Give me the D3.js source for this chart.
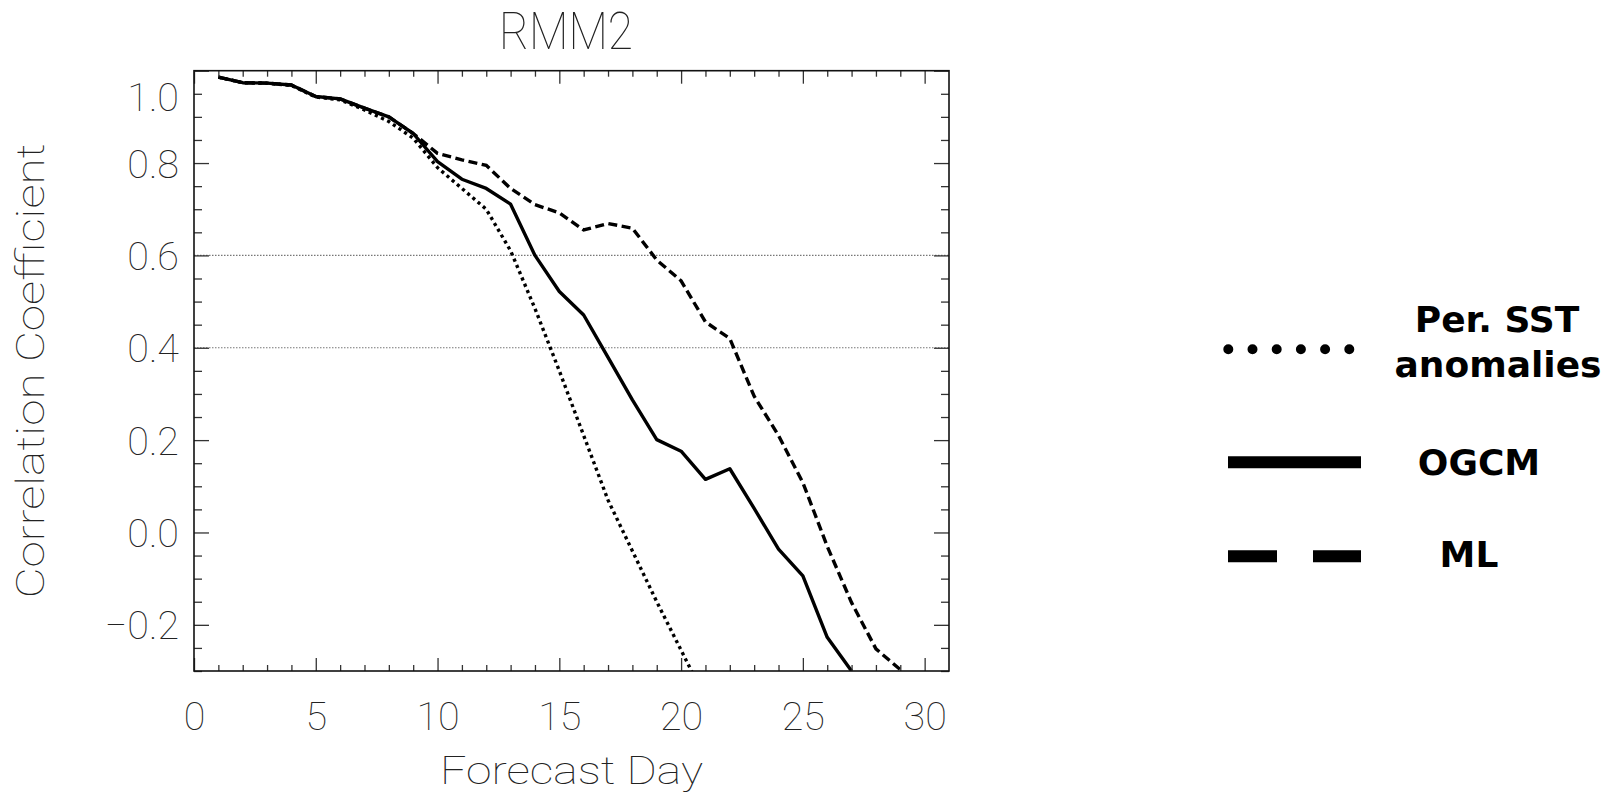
<!DOCTYPE html>
<html>
<head>
<meta charset="utf-8">
<script src="https://cdn.jsdelivr.net/npm/d3@7"></script>
<style>
  html, body { margin: 0; padding: 0; background: #fff; }
  svg { display: block; }
  .thin { font-family: "Roboto", "Lato", "DejaVu Sans", sans-serif; font-weight: 100; fill: #222; }
  .leg { font-family: "DejaVu Sans", "Verdana", sans-serif; font-weight: bold; fill: #000; }
</style>
</head>
<body>
<script>
// ---------------- data ----------------
const days = [1,2,3,4,5,6,7,8,9,10,11,12,13,14,15,16,17,18,19,20,21,22,23,24,25,26,27,28,29];
const perSST = [0.986,0.974,0.973,0.968,0.943,0.937,0.915,0.89,0.854,0.79,0.745,0.70,0.61,0.485,0.35,0.21,0.07,-0.04,-0.15,-0.255,-0.36];
const ogcm   = [0.986,0.974,0.973,0.969,0.944,0.939,0.919,0.90,0.864,0.803,0.765,0.745,0.711,0.60,0.522,0.471,0.379,0.287,0.201,0.176,0.115,0.138,0.052,-0.036,-0.094,-0.227,-0.30];
const ml     = [0.986,0.974,0.973,0.969,0.944,0.939,0.919,0.90,0.864,0.821,0.807,0.795,0.745,0.71,0.692,0.655,0.669,0.659,0.59,0.545,0.456,0.42,0.295,0.21,0.108,-0.03,-0.152,-0.252,-0.297];
const xMajorTicks = [0,5,10,15,20,25,30];
const yMajorTicks = [-0.2,0.0,0.2,0.4,0.6,0.8,1.0];
const refLines = [0.6, 0.4];
const seriesNames = ["Per. SST", "anomalies", "OGCM", "ML"];
const titleText = "RMM2";
const xLabel = "Forecast Day";
const yLabel = "Correlation Coefficient";

// ---------------- layout ----------------
const W = 1624, H = 794;
const L = 194, R = 949, T = 70.7, B = 671;

const svg = d3.select("body").append("svg").attr("width", W).attr("height", H);

const x = d3.scaleLinear().domain([0, 31]).range([L, R]);
const y = d3.scaleLinear().domain([-0.3, 1.0]).range([B, T]);

const xMinor = d3.range(1, 31).filter(d => d % 5 !== 0);
const yMinor = d3.range(-6, 21).map(i => +(i * 0.05).toFixed(2)).filter(v => yMajorTicks.every(m => Math.abs(m - v) > 1e-6));

// reference dotted lines
svg.append("g").selectAll("line").data(refLines).join("line")
  .attr("x1", L).attr("x2", R)
  .attr("y1", d => y(d)).attr("y2", d => y(d))
  .attr("stroke", "#777").attr("stroke-width", 1.2).attr("stroke-dasharray", "1.5,1.5");

// series
svg.append("defs").append("clipPath").attr("id", "clip")
  .append("rect").attr("x", L).attr("y", T).attr("width", R - L).attr("height", B - T);

const line = d3.line().x((d, i) => x(days[i])).y(d => y(d));
const gLines = svg.append("g").attr("clip-path", "url(#clip)");
gLines.append("path").datum(perSST).attr("d", line)
  .attr("fill", "none").attr("stroke", "#000").attr("stroke-width", 3.4).attr("stroke-dasharray", "3.2,3.6");
gLines.append("path").datum(ml).attr("d", line)
  .attr("fill", "none").attr("stroke", "#000").attr("stroke-width", 3.4).attr("stroke-dasharray", "9,4.5");
gLines.append("path").datum(ogcm).attr("d", line)
  .attr("fill", "none").attr("stroke", "#000").attr("stroke-width", 3.4).attr("stroke-linejoin", "round");

// axes (ticks inward)
function styleAxis(g) {
  g.select(".domain").remove();
  g.selectAll(".tick line").attr("stroke", "#333").attr("stroke-width", 1.3);
}
svg.append("g").attr("transform", `translate(0,${B})`)
  .call(d3.axisBottom(x).tickValues(xMinor).tickSize(-6).tickFormat("")).call(styleAxis);
svg.append("g").attr("transform", `translate(0,${B})`)
  .call(d3.axisBottom(x).tickValues(xMajorTicks).tickSize(-13).tickPadding(31).tickFormat(d3.format("d")))
  .call(styleAxis)
  .call(g => g.selectAll("text").attr("class", "thin").attr("font-size", 39.5).attr("fill", null));
svg.append("g").attr("transform", `translate(0,${T})`)
  .call(d3.axisTop(x).tickValues(xMinor).tickSize(-6).tickFormat("")).call(styleAxis);
svg.append("g").attr("transform", `translate(0,${T})`)
  .call(d3.axisTop(x).tickValues(xMajorTicks).tickSize(-13).tickFormat("")).call(styleAxis);

svg.append("g").attr("transform", `translate(${L},0)`)
  .call(d3.axisLeft(y).tickValues(yMinor).tickSize(-8).tickFormat("")).call(styleAxis);
svg.append("g").attr("transform", `translate(${L},0)`)
  .call(d3.axisLeft(y).tickValues(yMajorTicks).tickSize(-15).tickPadding(15).tickFormat(d3.format(".1f")))
  .call(styleAxis)
  .call(g => g.selectAll("text").attr("class", "thin").attr("font-size", 39.5).attr("fill", null)
    .attr("dy", d => d === 1.0 ? "1.0em" : "0.355em"));
svg.append("g").attr("transform", `translate(${R},0)`)
  .call(d3.axisRight(y).tickValues(yMinor).tickSize(-8).tickFormat("")).call(styleAxis);
svg.append("g").attr("transform", `translate(${R},0)`)
  .call(d3.axisRight(y).tickValues(yMajorTicks).tickSize(-15).tickFormat("")).call(styleAxis);

// frame
svg.append("rect").attr("x", L).attr("y", T).attr("width", R - L).attr("height", B - T)
  .attr("fill", "none").attr("stroke", "#111").attr("stroke-width", 1.6);

// titles
svg.append("text").attr("class", "thin").attr("x", 566).attr("y", 49)
  .attr("text-anchor", "middle").attr("font-size", 52)
  .attr("textLength", 134).attr("lengthAdjust", "spacingAndGlyphs").text(titleText);
svg.append("text").attr("class", "thin").attr("x", (L + R) / 2).attr("y", 784)
  .attr("text-anchor", "middle").attr("font-size", 39.5)
  .attr("textLength", 263).attr("lengthAdjust", "spacingAndGlyphs").text(xLabel);
svg.append("text").attr("class", "thin")
  .attr("transform", `translate(44,${(T + B) / 2}) rotate(-90)`)
  .attr("text-anchor", "middle").attr("font-size", 39.5)
  .attr("textLength", 455).attr("lengthAdjust", "spacingAndGlyphs").text(yLabel);

// legend
const lg = svg.append("g");
lg.append("line").attr("x1", 1228.3).attr("x2", 1350).attr("y1", 349.3).attr("y2", 349.3)
  .attr("stroke", "#000").attr("stroke-width", 10).attr("stroke-linecap", "round")
  .attr("stroke-dasharray", "0,24.2");
lg.append("line").attr("x1", 1228).attr("x2", 1361).attr("y1", 462.3).attr("y2", 462.3)
  .attr("stroke", "#000").attr("stroke-width", 12);
lg.append("line").attr("x1", 1228).attr("x2", 1361).attr("y1", 556.3).attr("y2", 556.3)
  .attr("stroke", "#000").attr("stroke-width", 12).attr("stroke-dasharray", "49,36");
const legText = [
  {t: seriesNames[0], x: 1497, y: 331.7},
  {t: seriesNames[1], x: 1498, y: 376.7},
  {t: seriesNames[2], x: 1479, y: 475},
  {t: seriesNames[3], x: 1469, y: 566.7}
];
lg.selectAll("text").data(legText).join("text").attr("class", "leg")
  .attr("x", d => d.x).attr("y", d => d.y).attr("text-anchor", "middle")
  .attr("font-size", 36).text(d => d.t);
</script>
</body>
</html>
